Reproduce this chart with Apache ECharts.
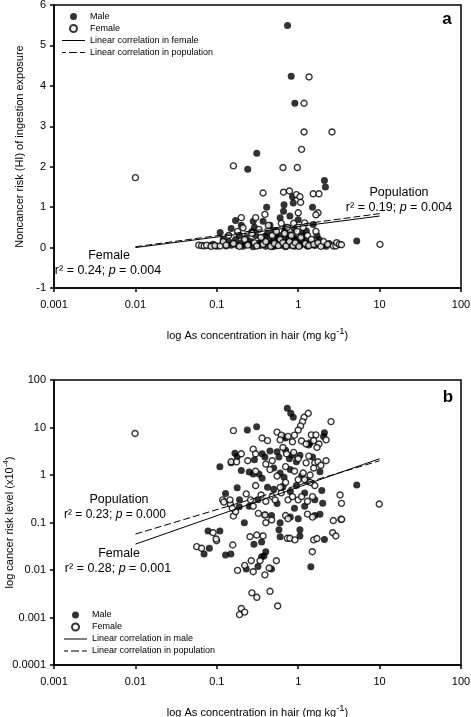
<!DOCTYPE html>
<html><head><meta charset="utf-8">
<script src="https://cdn.jsdelivr.net/npm/echarts@6/dist/echarts.min.js"></script>
<style>html,body{margin:0;padding:0;background:#fff}#c{width:471px;height:717px}</style>
</head><body><div id="c"></div>
<script>
// ---------- data ----------
const xTickLabels = ['0.001','0.01','0.1','1','10','100'];
const yTickLabelsB = ['0.0001','0.001','0.01','0.1','1','10','100'];

// Panel a: noncancer risk (HI) vs As in hair
const maleA = [[0.74,5.49],[0.82,4.24],[0.91,3.57],[0.31,2.33],[0.24,1.94],[2.1,1.66],[2.16,1.5],
 [0.85,1.26],[0.87,1.1],[0.67,1.06],[0.41,1.0],[1.5,1.0],[0.66,0.9],[0.17,0.67],[0.15,0.47],[0.28,0.65],[0.37,0.65],[0.6,0.74],[0.79,0.78],[1.0,0.69],[1.53,0.57],[1.26,0.41],[0.11,0.37],[0.2,0.55],[0.29,0.5],[0.45,0.55],[0.5,0.42],[0.7,0.5],[0.9,0.45],[1.1,0.35],[1.7,0.3],
 [0.08,0.05],[0.09,0.08],[0.1,0.03],[0.12,0.1],[0.13,0.04],[0.14,0.15],[0.15,0.06],[0.17,0.2],[0.18,0.05],[0.2,0.12],[0.21,0.03],[0.23,0.25],[0.25,0.08],[0.26,0.15],[0.28,0.02],[0.3,0.3],[0.32,0.1],[0.34,0.05],[0.36,0.2],[0.38,0.12],[0.4,0.03],[0.42,0.35],[0.44,0.18],[0.47,0.07],[0.5,0.25],[0.52,0.04],[0.55,0.15],[0.58,0.1],[0.6,0.3],[0.63,0.06],[0.66,0.2],[0.7,0.02],[0.72,0.12],[0.76,0.25],[0.8,0.06],[0.85,0.16],[0.9,0.03],[0.95,0.22],[1.0,0.1],[1.05,0.05],[1.1,0.18],[1.2,0.08],[1.3,0.03],[1.4,0.13],[1.6,0.05],[1.8,0.2],[2.0,0.06],[2.2,0.03],[5.24,0.16],
 [0.12,0.2],[0.16,0.1],[0.19,0.3],[0.22,0.08],[0.27,0.4],[0.35,0.12],[0.39,0.28],[0.45,0.1],[0.48,0.02],[0.53,0.33],[0.57,0.22],[0.62,0.15],[0.68,0.4],[0.74,0.08],[0.78,0.32],[0.88,0.25],[0.93,0.12],[1.15,0.28],[1.25,0.15],[1.45,0.07],[1.7,0.12],[2.4,0.1]];
const femaleA = [[0.01,1.73],[1.36,4.22],[1.18,3.57],[1.18,2.86],[2.6,2.86],[1.1,2.43],[0.16,2.02],[0.65,1.98],[0.975,1.98],[0.37,1.35],[0.66,1.37],[0.78,1.4],[0.95,1.31],[1.05,1.26],[1.53,1.33],[1.8,1.33],[1.07,1.12],[1.75,0.86],[1.65,0.81],[1.0,0.86],[0.39,0.82],[0.3,0.74],[0.2,0.74],[0.21,0.49],[1.2,0.61],
 [0.06,0.06],[0.065,0.05],[0.07,0.04],[0.075,0.06],[0.085,0.03],[0.095,0.05],[0.11,0.04],[0.12,0.15],[0.13,0.06],[0.14,0.3],[0.16,0.1],[0.18,0.4],[0.19,0.03],[0.22,0.2],[0.24,0.06],[0.27,0.35],[0.29,0.12],[0.31,0.04],[0.33,0.45],[0.35,0.25],[0.37,0.08],[0.4,0.15],[0.43,0.55],[0.46,0.03],[0.48,0.3],[0.51,0.1],[0.54,0.4],[0.57,0.05],[0.6,0.2],[0.62,0.6],[0.65,0.12],[0.68,0.35],[0.71,0.04],[0.74,0.5],[0.78,0.15],[0.82,0.3],[0.86,0.05],[0.88,0.6],[0.92,0.12],[0.97,0.4],[1.02,0.03],[1.08,0.25],[1.15,0.5],[1.22,0.1],[1.3,0.3],[1.35,0.05],[1.45,0.2],[1.55,0.08],[1.65,0.4],[1.75,0.12],[1.9,0.03],[2.05,0.15],[2.3,0.08],[2.7,0.04],[2.9,0.04],[2.97,0.12],[3.2,0.08],[3.4,0.07],[10.1,0.08]];
const femaleFitA = [[0.01,0.0],[10,0.78]];
const populationFitA = [[0.01,0.02],[10,0.84]];

// Panel b: cancer risk level vs As in hair
const maleB = [[0.735,25.4],[0.81,20],[0.87,16.4],[0.237,8.86],[0.309,10.4],[2.1,7.76],[2.05,6.5],[0.65,6.5],[0.7,6.0],[1.4,4.8],[1.35,4.3],
 [0.167,2.86],[0.178,2.43],[0.15,1.82],[0.109,1.5],[0.29,2.1],[0.36,2.8],[0.39,2.4],[0.45,3.2],[0.55,3.1],[0.58,2.4],[0.7,3.3],[0.78,2.2],[0.85,2.6],[0.95,1.9],[1.05,2.6],[1.5,2.4],[1.85,1.17],[0.2,1.25],[0.25,1.15],[0.28,1.05],[0.33,1.05],[0.36,0.85],[0.5,1.4],[0.6,1.1],[0.67,0.9],[0.8,1.3],[1.1,0.95],[1.3,0.75],
 [0.128,0.41],[0.178,0.54],[0.189,0.215],[0.19,0.3],[0.42,0.55],[0.5,0.5],[0.65,0.58],[0.8,0.45],[0.95,0.6],[1.2,0.42],[1.95,0.47],[2.0,0.254],[1.85,0.15],[5.24,0.616],[0.32,0.3],[0.25,0.22],[0.55,0.25],[0.9,0.2],[1.2,0.22],[1.6,0.3],
 [0.078,0.066],[0.109,0.066],[0.0697,0.0217],[0.081,0.0286],[0.128,0.0206],[0.149,0.0217],[0.218,0.099],[0.39,0.144],[0.47,0.14],[0.6,0.099],[0.8,0.13],[1.0,0.12],[1.6,0.14],[0.286,0.035],[0.355,0.039],[0.58,0.07],[0.6,0.05],[1.05,0.07],[1.05,0.052],[2.1,0.044],[0.4,0.0243],[0.38,0.0198],[0.355,0.019],[1.43,0.0117],[0.23,0.0105],[0.32,0.0118],[0.47,0.0105]];
const femaleB = [[1.33,19.9],[1.18,16.4],[1.13,13.3],[1.07,10.8],[1.0,8.85],[2.53,13.3],[0.0099,7.5],[0.16,8.6],[0.55,8.0],[0.62,6.9],[0.75,6.5],[0.9,6.9],[1.45,7.0],[1.65,7.0],[1.55,5.3],[0.36,6.0],[0.42,5.3],[0.6,5.5],[0.85,5.0],[1.1,5.2],[1.25,4.5],[1.8,4.5],[2.2,5.5],[1.7,3.8],
 [0.15,1.9],[0.175,1.9],[0.2,2.8],[0.24,2.0],[0.28,3.5],[0.3,2.8],[0.4,1.7],[0.48,2.0],[0.65,3.8],[0.72,2.8],[0.88,3.0],[1.0,2.2],[1.25,1.8],[1.35,2.5],[1.6,1.8],[1.75,1.9],[1.9,1.6],[2.2,2.0],[0.3,1.2],[0.45,1.3],[0.55,0.95],[0.7,1.5],[0.9,1.2],[1.0,0.8],[1.15,1.1],[1.4,1.0],[1.2,0.8],[1.55,1.4],
 [0.118,0.3],[0.122,0.27],[0.147,0.245],[0.16,0.137],[0.17,0.169],[0.145,0.3],[0.155,0.2],[0.23,0.4],[0.26,0.3],[0.28,0.22],[0.35,0.38],[0.4,0.28],[0.48,0.35],[0.52,0.3],[0.62,0.42],[0.75,0.3],[0.85,0.35],[1.0,0.3],[1.1,0.35],[1.3,0.28],[1.5,0.35],[3.27,0.38],[3.4,0.253],[3.35,0.117],[9.9,0.245],[0.3,0.6],[0.7,0.7],[1.6,0.6],[1.4,0.7],[0.6,0.55],
 [0.0566,0.031],[0.065,0.0286],[0.0995,0.0413],[0.09,0.061],[0.098,0.045],[0.157,0.0336],[0.18,0.0098],[0.19,0.00115],[0.2,0.00155],[0.22,0.0013],[0.324,0.156],[0.391,0.144],[0.472,0.113],[0.4,0.099],[0.7,0.14],[0.75,0.12],[1.3,0.15],[1.5,0.13],[3.42,0.117],[2.7,0.11],[0.256,0.0503],[0.31,0.0545],[0.37,0.052],[0.735,0.0465],[0.79,0.0465],[0.91,0.043],[1.55,0.043],[1.7,0.046],[2.65,0.061],[2.9,0.052],[1.49,0.0243],[0.265,0.0157],[0.34,0.0157],[0.54,0.0157],[0.22,0.0125],[0.28,0.0092],[0.39,0.0079],[0.44,0.011],[0.27,0.0033],[0.31,0.00266],[0.45,0.00356],[0.56,0.00175]];
const maleFitB = [[0.01,0.035],[10,2.2]];
const populationFitB = [[0.01,0.057],[10,2.0]];

// ---------- chart ----------
const FONT = '"Liberation Sans", Arial, Helvetica, sans-serif';
function logLabel(labels, minExp) {
  return v => { const k = Math.round(Math.log10(v)) - minExp; return labels[k] !== undefined ? labels[k] : ''; };
}
const axisBase = () => ({
  nameMoveOverlap: false,
  axisLine: {show: true, onZero: false, lineStyle: {color: '#000', width: 1.5}},
  axisTick: {show: true, inside: false, length: 4, lineStyle: {color: '#000', width: 1.5}},
  splitLine: {show: false}, minorTick: {show: false}, minorSplitLine: {show: false},
  axisLabel: {color: '#000', fontSize: 11, fontFamily: FONT}
});
const nameRich = {
  a: {fontSize: 11, fontFamily: FONT, color: '#000', lineHeight: 15, verticalAlign: 'bottom'},
  s: {fontSize: 9.5, fontFamily: FONT, color: '#000', lineHeight: 4, verticalAlign: 'top'}
};
const maleStyle = {symbol: 'circle', symbolSize: 7, itemStyle: {color: '#000'}};
const femaleStyle = {symbol: 'circle', symbolSize: 6, itemStyle: {color: '#fff', borderColor: '#000', borderWidth: 1.4}};
const lineSolid = {type: 'line', symbol: 'none', lineStyle: {color: '#000', width: 1, type: 'solid'}, itemStyle: {color: '#000'}};
const lineDash = {type: 'line', symbol: 'none', lineStyle: {color: '#000', width: 1, type: [7, 3]}, itemStyle: {color: '#000'}};
const ICON_SOLID = 'path://M0,0h0.01v0.01h-0.01z M0,3h23v1h-23z M23,7h-0.01v-0.01h0.01z';
const ICON_DASH = 'path://M0,0h0.01v0.01h-0.01z M0,3h4v1h-4z M7,3h8v1h-8z M18,3h5v1h-5z M23,7h-0.01v-0.01h0.01z';

function txt(x, y, text, size, extra) {
  return {type: 'text', x, y, z: 100, style: Object.assign({text, fill: '#000', fontSize: size, fontFamily: FONT, align: 'center', verticalAlign: 'middle',
    rich: {i: {fontStyle: 'italic', fontSize: size, fontFamily: FONT, fill: '#000'}}}, extra || {})};
}
function legendData(lineName, popName) {
  return ['Male', 'Female',
    {name: lineName, icon: ICON_SOLID, itemStyle: {color: '#000', borderWidth: 0}},
    {name: popName, icon: ICON_DASH, itemStyle: {color: '#000', borderWidth: 0}}];
}

const option = {
  animation: false,
  backgroundColor: '#fff',
  grid: [
    {left: 54, width: 407, top: 5, height: 283, show: true, borderColor: '#000', borderWidth: 1.5, backgroundColor: 'transparent', containLabel: false, outerBoundsMode: 'none'},
    {left: 54, width: 407, top: 380, height: 285, show: true, borderColor: '#000', borderWidth: 1.5, backgroundColor: 'transparent', containLabel: false, outerBoundsMode: 'none'}
  ],
  xAxis: [
    Object.assign(axisBase(), {gridIndex: 0, type: 'log', logBase: 10, min: 0.001, max: 100, interval: 1, splitNumber: 5,
      name: '{a|log As concentration in hair (mg kg}{s|-1}{a|)}', nameLocation: 'middle', nameGap: 38,
      nameTextStyle: {rich: nameRich}}),
    Object.assign(axisBase(), {gridIndex: 1, type: 'log', logBase: 10, min: 0.001, max: 100, interval: 1, splitNumber: 5,
      name: '{a|log As concentration in hair (mg kg}{s|-1}{a|)}', nameLocation: 'middle', nameGap: 38,
      nameTextStyle: {rich: nameRich}})
  ],
  yAxis: [
    Object.assign(axisBase(), {gridIndex: 0, type: 'value', min: -1, max: 6, interval: 1,
      name: 'Noncancer risk (HI) of ingestion exposure', nameLocation: 'middle', nameGap: 29,
      nameTextStyle: {fontSize: 11, fontFamily: FONT, color: '#000'}}),
    Object.assign(axisBase(), {gridIndex: 1, type: 'log', logBase: 10, min: 0.0001, max: 100, interval: 1, splitNumber: 6,
      name: '{a|log cancer risk level (x10}{s|-4}{a|)}', nameLocation: 'middle', nameGap: 39,
      nameTextStyle: {rich: {
        a: {fontSize: 11, fontFamily: FONT, color: '#000', lineHeight: 13, verticalAlign: 'bottom'},
        s: {fontSize: 8, fontFamily: FONT, color: '#000', lineHeight: 4, verticalAlign: 'top'}}}})
  ],
  legend: [
    {left: 62, top: 12, padding: 0, orient: 'vertical', itemWidth: 23, itemHeight: 7, itemGap: 3, selectedMode: false,
      textStyle: {fontSize: 9, fontFamily: FONT, color: '#000'},
      data: legendData('Linear correlation in female', 'Linear correlation in population')},
    {left: 64, top: 610.5, padding: 0, orient: 'vertical', itemWidth: 23, itemHeight: 7, itemGap: 3, selectedMode: false,
      textStyle: {fontSize: 9, fontFamily: FONT, color: '#000'},
      data: legendData('Linear correlation in male', 'Linear correlation in population ')}
  ],
  series: [
    Object.assign({type: 'scatter', name: 'Male', xAxisIndex: 0, yAxisIndex: 0, data: maleA}, maleStyle),
    Object.assign({type: 'scatter', name: 'Female', xAxisIndex: 0, yAxisIndex: 0, data: femaleA}, femaleStyle),
    Object.assign({}, lineSolid, {name: 'Linear correlation in female', xAxisIndex: 0, yAxisIndex: 0, data: femaleFitA}),
    Object.assign({}, lineDash, {name: 'Linear correlation in population', xAxisIndex: 0, yAxisIndex: 0, data: populationFitA}),
    Object.assign({type: 'scatter', name: 'Male', xAxisIndex: 1, yAxisIndex: 1, data: maleB}, maleStyle),
    Object.assign({type: 'scatter', name: 'Female', xAxisIndex: 1, yAxisIndex: 1, data: femaleB}, femaleStyle),
    Object.assign({}, lineSolid, {name: 'Linear correlation in male', xAxisIndex: 1, yAxisIndex: 1, data: maleFitB}),
    Object.assign({}, lineDash, {name: 'Linear correlation in population ', xAxisIndex: 1, yAxisIndex: 1, data: populationFitB})
  ],
  graphic: [
    txt(109, 256, 'Female', 12.5),
    txt(108, 271, 'r² = 0.24; {i|p} = 0.004', 12.5),
    txt(399, 193, 'Population', 12.5),
    txt(399, 207.5, 'r² = 0.19; {i|p} = 0.004', 12.5),
    txt(447, 19, 'a', 17, {fontWeight: 'bold'}),
    txt(119, 499.5, 'Population', 12.5),
    txt(115, 514.5, 'r² = 0.23; {i|p} = 0.000', 12),
    txt(119, 554, 'Female', 12.5),
    txt(118, 569, 'r² = 0.28; {i|p} = 0.001', 12.5),
    txt(448, 397, 'b', 17, {fontWeight: 'bold'})
  ]
};
option.xAxis.forEach(a => { a.axisLabel.formatter = logLabel(xTickLabels, -3); a.axisLabel.margin = 11; });
option.yAxis[1].axisLabel.formatter = logLabel(yTickLabelsB, -4);
option.yAxis.forEach(a => { a.axisLabel.margin = 8; });

const chart = echarts.init(document.getElementById('c'), null, {renderer: 'canvas'});
chart.setOption(option);
</script></body></html>
